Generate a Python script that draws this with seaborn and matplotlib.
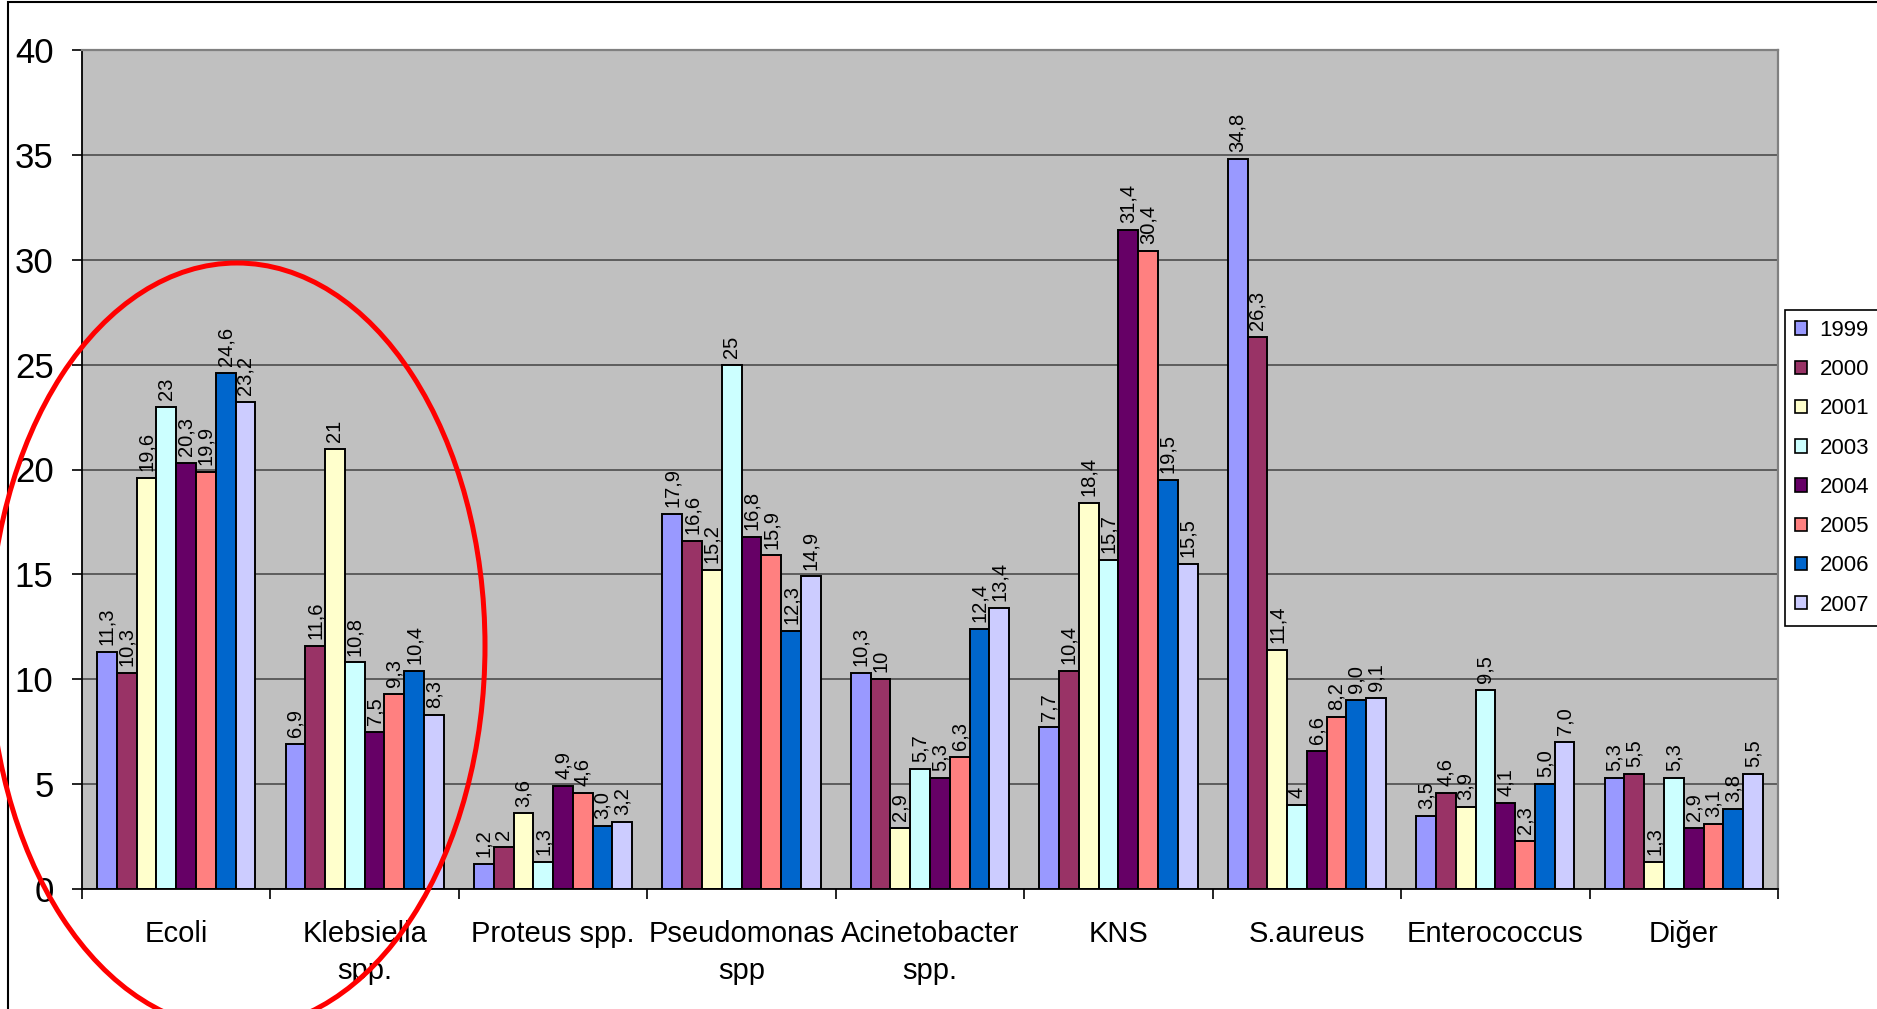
import numpy as np
import pandas as pd
import matplotlib
matplotlib.use("Agg")
import matplotlib.pyplot as plt
from matplotlib.patches import Patch, Ellipse, Rectangle
import seaborn as sns

plt.rcParams['font.family'] = ['Liberation Sans', 'DejaVu Sans']

categories = ["Ecoli", "Klebsiella\nspp.", "Proteus spp.", "Pseudomonas\nspp",
              "Acinetobacter\nspp.", "KNS", "S.aureus", "Enterococcus", "Diğer"]
years = ["1999", "2000", "2001", "2003", "2004", "2005", "2006", "2007"]
colors = ["#9999FF", "#993366", "#FFFFCC", "#CCFFFF",
          "#660066", "#FF8080", "#0066CC", "#CCCCFF"]

# Percentages per year, written as they appear in the value labels
y1999 = ["11,3", "6,9", "1,2", "17,9", "10,3", "7,7", "34,8", "3,5", "5,3"]
y2000 = ["10,3", "11,6", "2", "16,6", "10", "10,4", "26,3", "4,6", "5,5"]
y2001 = ["19,6", "21", "3,6", "15,2", "2,9", "18,4", "11,4", "3,9", "1,3"]
y2003 = ["23", "10,8", "1,3", "25", "5,7", "15,7", "4", "9,5", "5,3"]
y2004 = ["20,3", "7,5", "4,9", "16,8", "5,3", "31,4", "6,6", "4,1", "2,9"]
y2005 = ["19,9", "9,3", "4,6", "15,9", "6,3", "30,4", "8,2", "2,3", "3,1"]
y2006 = ["24,6", "10,4", "3,0", "12,3", "12,4", "19,5", "9,0", "5,0", "3,8"]
y2007 = ["23,2", "8,3", "3,2", "14,9", "13,4", "15,5", "9,1", "7,0", "5,5"]

labels_by_year = dict(zip(years, [y1999, y2000, y2001, y2003,
                                  y2004, y2005, y2006, y2007]))


def to_num(s):
    return float(s.replace(",", "."))


rows = []
for yr in years:
    for cat, s in zip(categories, labels_by_year[yr]):
        rows.append({"Bakteri": cat, "Yıl": yr, "Oran": to_num(s)})
df = pd.DataFrame(rows)

W, H = 1877, 1009
fig = plt.figure(figsize=(W / 100, H / 100), dpi=100)
fig.patch.set_facecolor("white")
ax = fig.add_axes([82 / W, 1 - 889 / H, (1778 - 82) / W, (889 - 50) / H])
ax.set_facecolor("#C0C0C0")

sns.barplot(data=df, x="Bakteri", y="Oran", hue="Yıl", order=categories,
            hue_order=years, palette=dict(zip(years, colors)), width=0.84,
            saturation=1, edgecolor="black", linewidth=1.4, errorbar=None,
            legend=False, ax=ax)

# Value labels above each bar
for i, cont in enumerate(ax.containers):
    yr = years[i]
    for bar in cont:
        cx = bar.get_x() + bar.get_width() / 2
        ci = int(round(cx))
        h = bar.get_height()
        ax.annotate(labels_by_year[yr][ci], (cx, h), xytext=(0, 5),
                    textcoords="offset points", rotation=90,
                    ha="center", va="bottom", fontsize=14.5)

ax.set_xlabel("")
ax.set_ylabel("")
ax.set_ylim(0, 40)
ax.set_xlim(-0.5, len(categories) - 0.5)
ax.set_yticks(np.arange(0, 41, 5))
ax.set_xticks(range(len(categories)))
ax.set_xticklabels(categories, fontsize=21, linespacing=1.45)
ax.set_xticks(np.arange(-0.5, len(categories), 1), minor=True)
ax.tick_params(axis="x", which="major", length=0, pad=22)
ax.tick_params(axis="x", which="minor", length=7, width=1.2, color="black")
ax.tick_params(axis="y", length=7.5, width=1.2, pad=13, labelsize=25)

ax.yaxis.grid(True, color="#555555", linewidth=1.3)
ax.xaxis.grid(False)
ax.set_axisbelow(True)

for side in ["left", "bottom"]:
    ax.spines[side].set_color("black")
    ax.spines[side].set_linewidth(1.3)
for side in ["top", "right"]:
    ax.spines[side].set_color("#808080")
    ax.spines[side].set_linewidth(1.6)

handles = [Patch(facecolor=c, edgecolor="black", linewidth=1.2) for c in colors]
leg = ax.legend(handles, years, loc="upper left",
                bbox_to_anchor=(1785 / W, 1 - 310 / H),
                bbox_transform=fig.transFigure, frameon=True, fancybox=False,
                edgecolor="black", framealpha=1, fontsize=16,
                handlelength=0.55, handleheight=0.55, handletextpad=0.55,
                labelspacing=0.82, borderpad=0.45, borderaxespad=0)
leg.get_frame().set_linewidth(1.2)

# Red ring highlighting the first two groups
fig.add_artist(Ellipse((237 / W, 1 - 646 / H), 2 * 248 / W, 2 * 383 / H,
                       transform=fig.transFigure, fill=False,
                       edgecolor="#FF0000", linewidth=3.6, zorder=10))

# Outer chart frame
fig.add_artist(Rectangle((8 / W, -0.1), 1.2, 1.1 - 2 / H,
                         transform=fig.transFigure, fill=False,
                         edgecolor="black", linewidth=1.5))

fig.savefig("out.png", dpi=100)
